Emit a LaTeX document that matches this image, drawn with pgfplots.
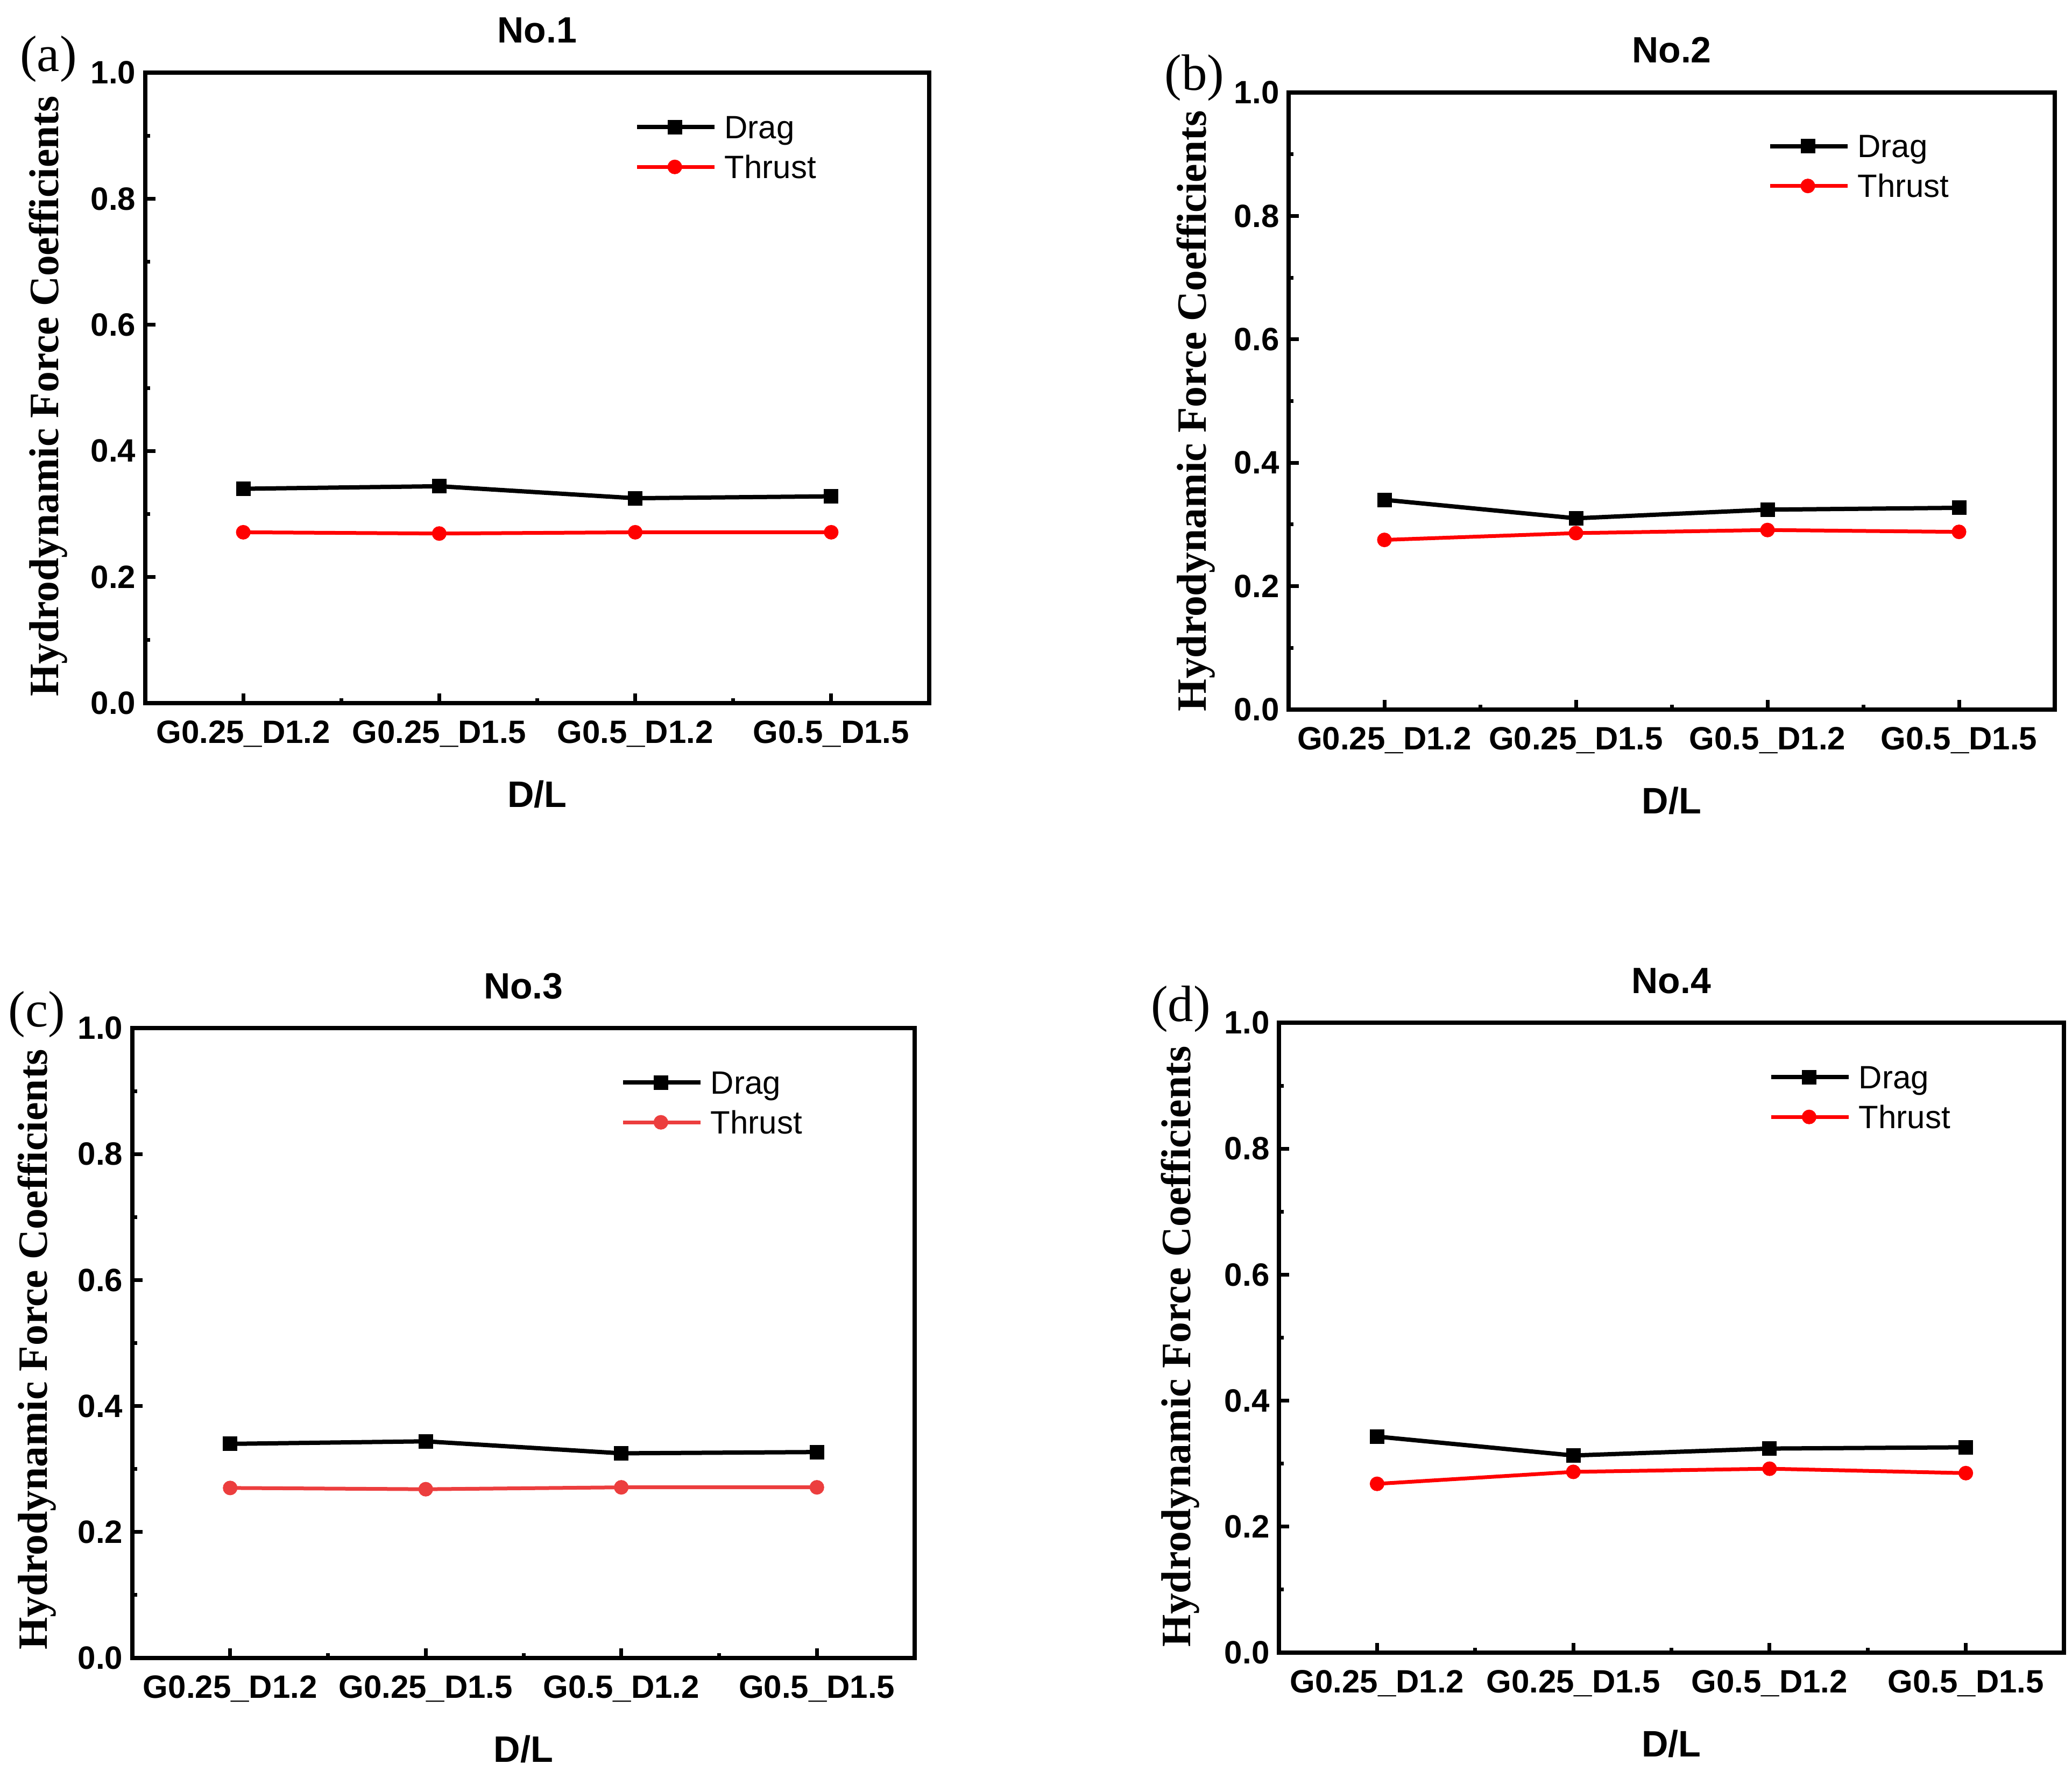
\documentclass[border=0pt]{standalone}
\usepackage{fontspec}
\setmainfont{Liberation Sans}
\newfontfamily\tms{Liberation Serif}
\usepackage{pgfplots}
\pgfplotsset{compat=1.18}

\definecolor{thrustred}{RGB}{255,0,0}
\definecolor{thrustlight}{RGB}{236,62,62}

\pgfplotsset{
  hfc/.style={
    scale only axis,
    clip=false,
    anchor=north west,
    xmin=-0.5, xmax=3.5,
    ymin=0, ymax=1,
    xtick={0,1,2,3},
    xticklabels={G0.25\_D1.2,G0.25\_D1.5,G0.5\_D1.2,G0.5\_D1.5},
    minor xtick={0.5,1.5,2.5},
    ytick={0,0.2,0.4,0.6,0.8,1},
    yticklabels={0.0,0.2,0.4,0.6,0.8,1.0},
    minor ytick={0.1,0.3,0.5,0.7,0.9},
    tick align=inside,
    xtick pos=left, ytick pos=left,
    major tick length=3.7pt,
    minor tick length=1.8pt,
    every tick/.style={black, line width=1.4pt},
    axis line style={line width=1.5pt},
    ticklabel style={font=\bfseries\fontsize{12}{14}\selectfont},
    xticklabel style={yshift=-3pt},
    xlabel={D/L},
    xlabel style={font=\bfseries\fontsize{13.7}{16}\selectfont,
      at={(axis description cs:0.5,0)}, anchor=center, yshift=-33.8pt},
    ylabel={Hydrodynamic Force Coefficients},
    ylabel style={font=\tms\bfseries\fontsize{15.5}{18}\selectfont, anchor=center},
    title style={font=\bfseries\fontsize{13.6}{16}\selectfont,
      at={(0.5,1)}, anchor=base, yshift=5pt},
    legend style={draw=none, fill=none, inner sep=0pt,
      font=\fontsize{12}{14}\selectfont,
      nodes={inner sep=1pt, anchor=base west},
      row sep=2.6pt, column sep=2pt},
    legend cell align=left,
    legend image code/.code={
      \draw[mark repeat=2, mark phase=2]
        plot coordinates {(0pt,4.2pt) (14pt,4.2pt) (28.7pt,4.2pt)};},
  },
  drag/.style={black, line width=1.6pt, mark=square*, mark size=1.9pt,
    mark options={solid}},
  thrust/.style={#1, line width=1.4pt, mark=*, mark size=2pt,
    mark options={solid, fill=#1}},
}

\begin{document}
\begin{tikzpicture}
\path[use as bounding box] (0,0) rectangle (770.2pt,-658.2pt);

% (a) No.1
\begin{axis}[hfc, at={(54pt,-27pt)}, width=291.4pt, height=234.4pt,
  title={No.1},
  ylabel style={at={(axis description cs:-0.124,0.487)}},
  legend style={at={(0.624,0.936)}, anchor=north west}]
\addplot[drag] coordinates {(0,0.340) (1,0.344) (2,0.325) (3,0.328)};
\addplot[thrust=thrustred] coordinates {(0,0.271) (1,0.269) (2,0.271) (3,0.271)};
\legend{Drag,Thrust}
\node[font=\tms\fontsize{19}{22}\selectfont] at ([xshift=-36pt,yshift=5pt]rel axis cs:0,1) {(a)};
\end{axis}

% (b) No.2
\begin{axis}[hfc, at={(479pt,-34.4pt)}, width=284.8pt, height=229.4pt,
  title={No.2},
  ylabel style={at={(axis description cs:-0.121,0.484)}},
  legend style={at={(0.625,0.936)}, anchor=north west}]
\addplot[drag] coordinates {(0,0.340) (1,0.310) (2,0.324) (3,0.327)};
\addplot[thrust=thrustred] coordinates {(0,0.275) (1,0.286) (2,0.291) (3,0.288)};
\legend{Drag,Thrust}
\node[font=\tms\fontsize{19}{22}\selectfont] at ([xshift=-35pt,yshift=5.5pt]rel axis cs:0,1) {(b)};
\end{axis}

% (c) No.3
\begin{axis}[hfc, at={(49.2pt,-382.2pt)}, width=290.8pt, height=234.2pt,
  title={No.3},
  ylabel style={at={(axis description cs:-0.122,0.49)}},
  legend style={at={(0.624,0.936)}, anchor=north west}]
\addplot[drag] coordinates {(0,0.340) (1,0.344) (2,0.325) (3,0.327)};
\addplot[thrust=thrustlight] coordinates {(0,0.270) (1,0.268) (2,0.271) (3,0.271)};
\legend{Drag,Thrust}
\node[font=\tms\fontsize{19}{22}\selectfont] at ([xshift=-35.5pt,yshift=5pt]rel axis cs:0,1) {(c)};
\end{axis}

% (d) No.4
\begin{axis}[hfc, at={(475.4pt,-380.2pt)}, width=291.8pt, height=234.2pt,
  title={No.4},
  ylabel style={at={(axis description cs:-0.126,0.486)}},
  legend style={at={(0.624,0.936)}, anchor=north west}]
\addplot[drag] coordinates {(0,0.343) (1,0.313) (2,0.324) (3,0.326)};
\addplot[thrust=thrustred] coordinates {(0,0.268) (1,0.287) (2,0.292) (3,0.285)};
\legend{Drag,Thrust}
\node[font=\tms\fontsize{19}{22}\selectfont] at ([xshift=-36.5pt,yshift=5pt]rel axis cs:0,1) {(d)};
\end{axis}
\end{tikzpicture}
\end{document}
